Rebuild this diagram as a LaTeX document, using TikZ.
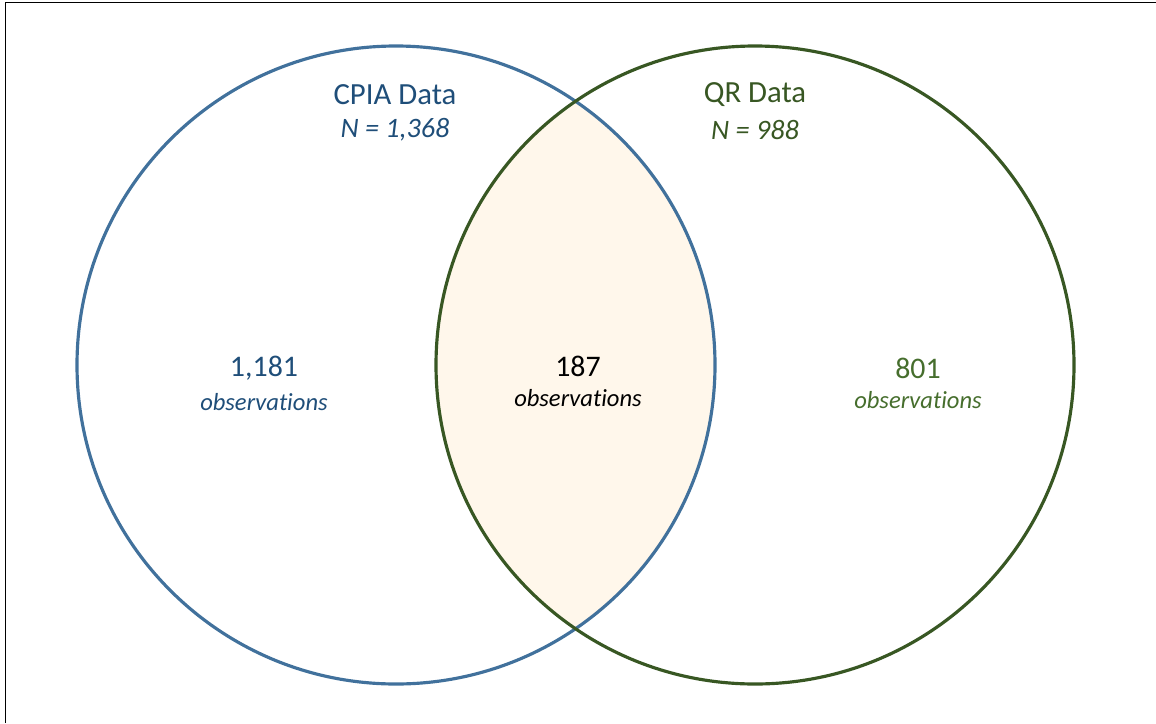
\documentclass[tikz,border=0pt]{standalone}
\usepackage{fontspec}
\setmainfont[Ligatures=NoCommon]{Carlito}
\usepackage{xcolor}
\definecolor{cpia-line}{RGB}{65,113,156}
\definecolor{cpia-text}{RGB}{31,78,121}
\definecolor{qr-line}{RGB}{56,87,35}
\definecolor{qr-text}{RGB}{70,110,45}
\definecolor{overlap-fill}{RGB}{255,247,235}
\usetikzlibrary{positioning}

\begin{document}
\begin{tikzpicture}[
    venn circle/.style={
        circle,
        draw=#1,
        line width=1.8pt,
        minimum size=12.76cm,
        inner sep=0pt
    },
    set title/.style={font=\fontsize{17.5}{20}\selectfont, text=#1},
    set size/.style={font=\fontsize{16}{19}\selectfont\itshape, text=#1},
    count value/.style={font=\fontsize{17}{20}\selectfont, text=#1},
    count label/.style={font=\fontsize{14}{17}\selectfont\itshape, text=#1, inner sep=1pt}
]

% Page frame (only top and left rule)
\useasboundingbox (0,0) rectangle (23.12,-14.46);
\draw[line width=1.1pt, black] (0.11,-14.46) -- (0.11,-0.05) -- (23.12,-0.05);

% Overlap of both sets
\coordinate (cpia c) at (7.92,-7.30);
\coordinate (qr c) at (15.10,-7.30);
\begin{scope}
    \clip (cpia c) circle (6.38);
    \fill[overlap-fill] (qr c) circle (6.38);
\end{scope}

% The two sets
\node[venn circle=cpia-line] (cpia) at (cpia c) {};
\node[venn circle=qr-line] (qr) at (qr c) {};

% Set headings
\node[set title=cpia-text] (cpiatitle) at (7.90,-1.90) {CPIA Data};
\node[set size=cpia-text, below=0.02cm of cpiatitle] {N = 1,368};
\node[set title=qr-line] (qrtitle) at (15.10,-1.90) {QR Data};
\node[set size=qr-line, below=0.02cm of qrtitle] {N = 988};

% Region counts
\node[count value=cpia-text] (left) at (5.28,-7.36) {1,181};
\node[count label=cpia-text, below=0.1cm of left] {observations};

\node[count value=black] (mid) at (11.56,-7.32) {187};
\node[count label=black, below=0.1cm of mid] {observations};

\node[count value=qr-text] (right) at (18.36,-7.36) {801};
\node[count label=qr-text, below=0.1cm of right] {observations};

\end{tikzpicture}
\end{document}
